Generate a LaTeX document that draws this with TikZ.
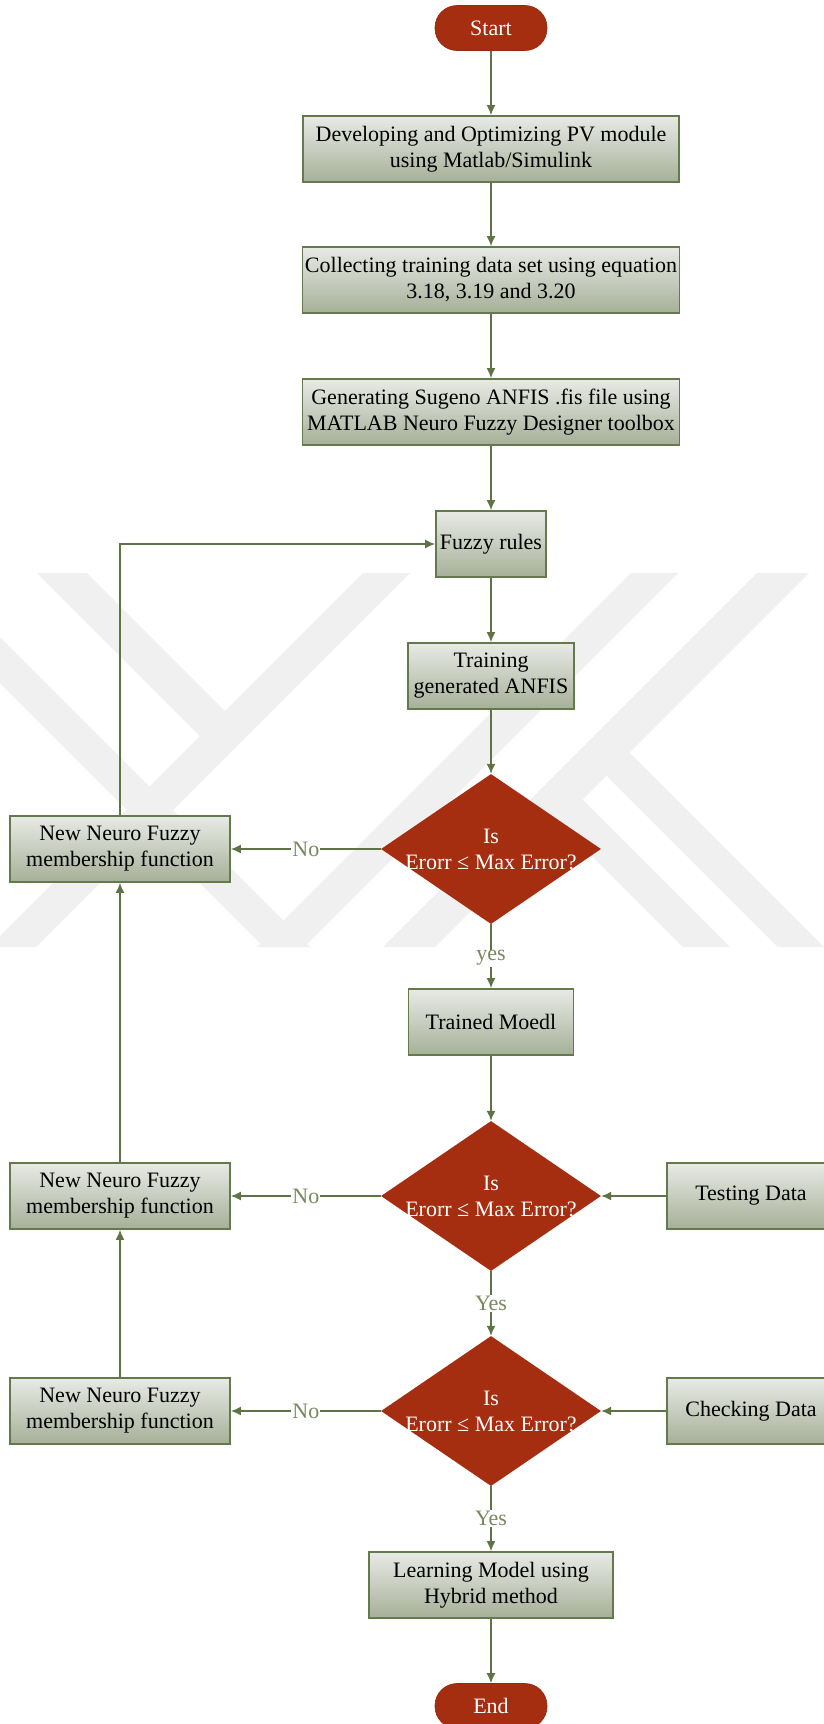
\documentclass[tikz,border=0pt]{standalone}
\usepackage{fontspec}
\setmainfont{Liberation Serif}
\usetikzlibrary{shapes.geometric,arrows.meta}

\definecolor{linegreen}{RGB}{94,116,70}
\definecolor{boxborder}{RGB}{100,122,76}
\definecolor{boxtop}{RGB}{232,234,230}
\definecolor{boxbottom}{RGB}{166,176,152}
\definecolor{decred}{RGB}{165,45,16}
\definecolor{decborder}{RGB}{150,40,14}
\definecolor{labelgreen}{RGB}{118,137,94}
\definecolor{markgray}{RGB}{240,240,240}

\begin{document}
\begin{tikzpicture}[x=1pt,y=-1pt,
  font=\fontsize{22}{26}\selectfont,
  procbox/.style={draw=boxborder, line width=1.8pt, top color=boxtop,
    bottom color=boxbottom, minimum height=66pt, inner xsep=1pt,
    inner ysep=2pt, align=center, text=black},
  decision/.style={diamond, fill=decred, minimum width=220pt,
    minimum height=150pt, inner sep=0pt},
  dtext/.style={text=white, align=center, inner sep=0pt},
  terminal/.style={rectangle, rounded corners=22pt, fill=decred,
    draw=decborder, line width=0.6pt, minimum width=112pt,
    minimum height=45pt, text=white},
  arrow/.style={draw=linegreen, line width=1.5pt,
    -{Latex[length=10pt,width=9pt]}},
  lbl/.style={fill=white, text=labelgreen, inner sep=1pt}]

\path[use as bounding box] (0,0) rectangle (824,1724);
\clip (0,0) rectangle (824,1724);
\fill[white] (0,0) rectangle (824,1724);

% faint background mark made of diagonal bands
\begin{scope}[fill=markgray]
  \fill (37,573) -- (87,573) -- (225,711) -- (200,736) -- cycle;
  \fill (363,573) -- (410,573) -- (36,947) -- (-11,947) -- cycle;
  \fill (0,637) -- (310,947) -- (264,947) -- (0,683) -- cycle;
  \fill (631,573) -- (678,573) -- (304,947) -- (257,947) -- cycle;
  \fill (757,573) -- (809,573) -- (435,947) -- (383,947) -- cycle;
  \fill (533,797) -- (580,797) -- (730,947) -- (683,947) -- cycle;
  \fill (581,750) -- (627,750) -- (824,947) -- (778,947) -- cycle;
\end{scope}

% main flow
\node[terminal] (start) at (491,28) {Start};
\node[procbox, minimum width=376pt] (b1) at (491,149)
  {Developing and Optimizing PV module\\using Matlab/Simulink};
\node[procbox, minimum width=377pt] (b2) at (491,280)
  {Collecting training data set using equation\\3.18, 3.19 and 3.20};
\node[procbox, minimum width=377pt] (b3) at (491,412)
  {Generating Sugeno ANFIS .fis file using\\MATLAB Neuro Fuzzy Designer toolbox};
\node[procbox, minimum width=110pt] (fz) at (491,544) {Fuzzy rules};
\node[procbox, minimum width=166pt] (tr) at (491,676)
  {Training\\generated ANFIS};
\node[decision] (d1) at (491,849) {};
\node[dtext] (d1t) at (d1) {Is\\Erorr ≤ Max Error?};
\node[procbox, minimum width=165pt] (tm) at (491,1022) {Trained Moedl};
\node[decision] (d2) at (491,1196) {};
\node[dtext] (d2t) at (d2) {Is\\Erorr ≤ Max Error?};
\node[decision] (d3) at (491,1411) {};
\node[dtext] (d3t) at (d3) {Is\\Erorr ≤ Max Error?};
\node[procbox, minimum width=244pt] (lm) at (491,1585)
  {Learning Model using\\Hybrid method};
\node[terminal] (end) at (491,1706) {End};

% side boxes
\node[procbox, minimum width=220pt] (n1) at (120,849)
  {New Neuro Fuzzy\\membership function};
\node[procbox, minimum width=220pt] (n2) at (120,1196)
  {New Neuro Fuzzy\\membership function};
\node[procbox, minimum width=220pt] (n3) at (120,1411)
  {New Neuro Fuzzy\\membership function};
\node[procbox, minimum width=168pt] (td) at (751,1196) {Testing Data};
\node[procbox, minimum width=168pt] (cd) at (751,1411) {Checking Data};

% connectors
\draw[arrow] (start) -- (b1);
\draw[arrow] (b1) -- (b2);
\draw[arrow] (b2) -- (b3);
\draw[arrow] (b3) -- (fz);
\draw[arrow] (fz) -- (tr);
\draw[arrow] (tr) -- (d1);
\draw[arrow] (d1) -- node[lbl] {No} (n1);
\draw[arrow] (n1.north) |- (fz.west);
\draw[arrow] (d1) -- node[lbl, yshift=-2pt] {yes} (tm);
\draw[arrow] (tm) -- (d2);
\draw[arrow] (d2) -- node[lbl] {No} (n2);
\draw[arrow] (td) -- (d2);
\draw[arrow] (n2) -- (n1);
\draw[arrow] (d2) -- node[lbl] {Yes} (d3);
\draw[arrow] (d3) -- node[lbl] {No} (n3);
\draw[arrow] (cd) -- (d3);
\draw[arrow] (n3) -- (n2);
\draw[arrow] (d3) -- node[lbl] {Yes} (lm);
\draw[arrow] (lm) -- (end);
\end{tikzpicture}
\end{document}
